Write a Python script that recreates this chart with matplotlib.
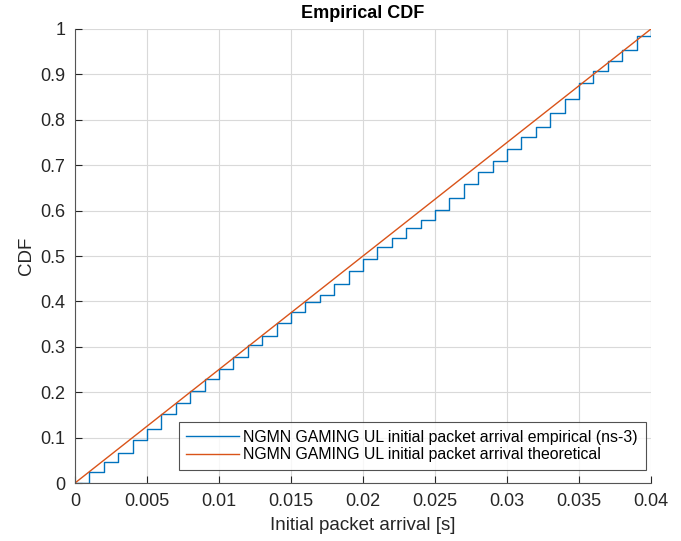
import numpy as np
import matplotlib.pyplot as plt

plt.rcParams['font.family'] = ['Liberation Sans', 'DejaVu Sans']

# empirical CDF values, one step each 1 ms
step_x = [0.001 * k for k in range(1, 41)]
step_y = [0.024, 0.047, 0.065, 0.095, 0.120, 0.151, 0.177, 0.203, 0.230, 0.251,
          0.278, 0.303, 0.324, 0.353, 0.376, 0.399, 0.413, 0.438, 0.467, 0.493,
          0.519, 0.540, 0.562, 0.580, 0.601, 0.627, 0.659, 0.685, 0.710, 0.736,
          0.763, 0.784, 0.814, 0.845, 0.880, 0.907, 0.930, 0.954, 0.984, 1.0]
theo_x = [0, 0.04]
theo_y = [0, 1]

emp_x = [0] + step_x
emp_y = [0] + step_y

fig = plt.figure(figsize=(6.81, 5.41), dpi=100)
ax = fig.add_axes([0.1101, 0.1072, 0.8458, 0.8392])

ax.step(emp_x, emp_y, where='post', color='#0072BD', lw=1.0,
        label='NGMN GAMING UL initial packet arrival empirical (ns-3)')
ax.plot(theo_x, theo_y, color='#D95319', lw=1.0,
        label='NGMN GAMING UL initial packet arrival theoretical')

ax.set_xlim(0, 0.04)
ax.set_ylim(0, 1)
xt = np.arange(0, 0.0401, 0.005)
ax.set_xticks(xt)
ax.set_xticklabels(['0', '0.005', '0.01', '0.015', '0.02', '0.025', '0.03', '0.035', '0.04'])
yt = np.arange(0, 1.01, 0.1)
ax.set_yticks(yt)
ax.set_yticklabels(['0'] + ['%.1f' % v for v in yt[1:-1]] + ['1'])
ax.grid(True, color='#d9d9d9', lw=0.8)
ax.set_axisbelow(True)
ax.spines['top'].set_visible(False)
ax.spines['right'].set_visible(False)
for s in ['left', 'bottom']:
    ax.spines[s].set_color('#555555')
    ax.spines[s].set_linewidth(0.8)
ax.tick_params(direction='in', length=5, width=0.8, color='#262626',
               labelsize=13, labelcolor='#262626', pad=7)

ax.set_xlabel('Initial packet arrival [s]', fontsize=13.5, color='#262626', labelpad=5)
ax.set_ylabel('CDF', fontsize=13.5, color='#262626', labelpad=4)
ax.set_title('Empirical CDF', fontsize=13, fontweight='bold', pad=8)

leg = ax.legend(loc='lower right', bbox_to_anchor=(646 / 681, 1 - 470 / 541),
                bbox_transform=fig.transFigure, fontsize=11.4, frameon=True,
                fancybox=False, edgecolor='#262626', handlelength=3.3,
                borderpad=0.5, labelspacing=0.15, handletextpad=0.3,
                borderaxespad=0)
leg.get_frame().set_linewidth(0.8)

fig.savefig('out.png', dpi=100)
